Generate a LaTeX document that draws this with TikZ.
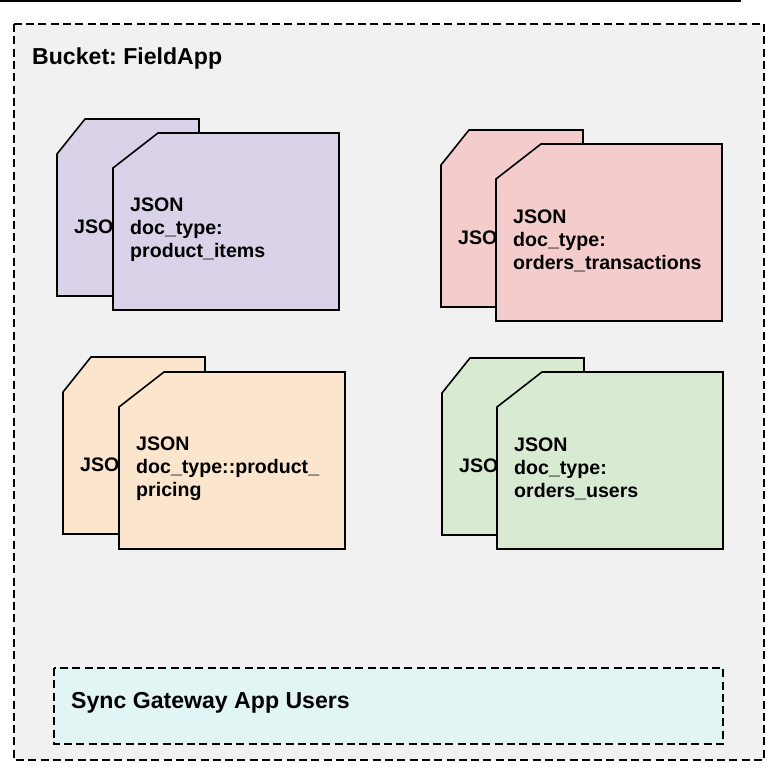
\documentclass[tikz,border=0pt]{standalone}
\usepackage{fontspec}
\setmainfont{Liberation Sans}
\usepackage{tikz}
\frenchspacing
\definecolor{bucketgray}{HTML}{F1F1F1}
\definecolor{syncteal}{HTML}{E0F5F4}
\definecolor{docpurple}{HTML}{D9D2E9}
\definecolor{docred}{HTML}{F4CCCC}
\definecolor{docorange}{HTML}{FCE5CD}
\definecolor{docgreen}{HTML}{D9EAD3}
\tikzset{
  dashbox/.style={draw=black,line width=1.5pt,dash pattern=on 8pt off 4.3pt},
  card/.style={draw=black,line width=1.6pt,line join=miter},
  cardtext/.style={anchor=west,align=left,inner sep=0pt,font=\fontsize{19.6}{23}\bfseries\selectfont},
  titletext/.style={cardtext,font=\fontsize{23.1}{27}\bfseries\selectfont}
}
\begin{document}
\begin{tikzpicture}[x=1pt,y=-1pt]
  \useasboundingbox (0,0) rectangle (784,782);
  \coordinate (ruleleft) at (0,0.7);
  \coordinate (ruleright) at (741,0.7);
  \draw[line width=1.6pt] (ruleleft) -- (ruleright);

  \draw[dashbox,fill=bucketgray] (14,24) rectangle (764,760);
  \node[titletext] (bucket) at (32,59) {Bucket: FieldApp};

  \foreach \bx/\by/\fx/\fy/\col/\txt in {
    57/119/113/133/docpurple/{JSON\\doc\_type:\\product\_items},
    441/130/496/144/docred/{JSON\\doc\_type:\\orders\_transactions},
    63/357/119/372/docorange/{JSON\\doc\_type::product\_\\pricing},
    442/358/497/372/docgreen/{JSON\\doc\_type:\\orders\_users}} {
    % back card, then the front one over it
    \draw[card,fill=\col] (\bx,\by+35) -- (\bx+28,\by) -- (\bx+142,\by)
      -- (\bx+142,\by+177) -- (\bx,\by+177) -- cycle;
    \node[cardtext] (back\col) at (\bx+17,\by+108) {JSON};
    \draw[card,fill=\col] (\fx,\fy+35) -- (\fx+45,\fy) -- (\fx+226,\fy)
      -- (\fx+226,\fy+177) -- (\fx,\fy+177) -- cycle;
    \node[cardtext] (front\col) at (\fx+17,\fy+97) {\txt};
  }

  \draw[dashbox,fill=syncteal] (54,668) rectangle (723,744);
  \node[titletext] (sync) at (71,703) {Sync Gateway App Users};
\end{tikzpicture}
\end{document}
